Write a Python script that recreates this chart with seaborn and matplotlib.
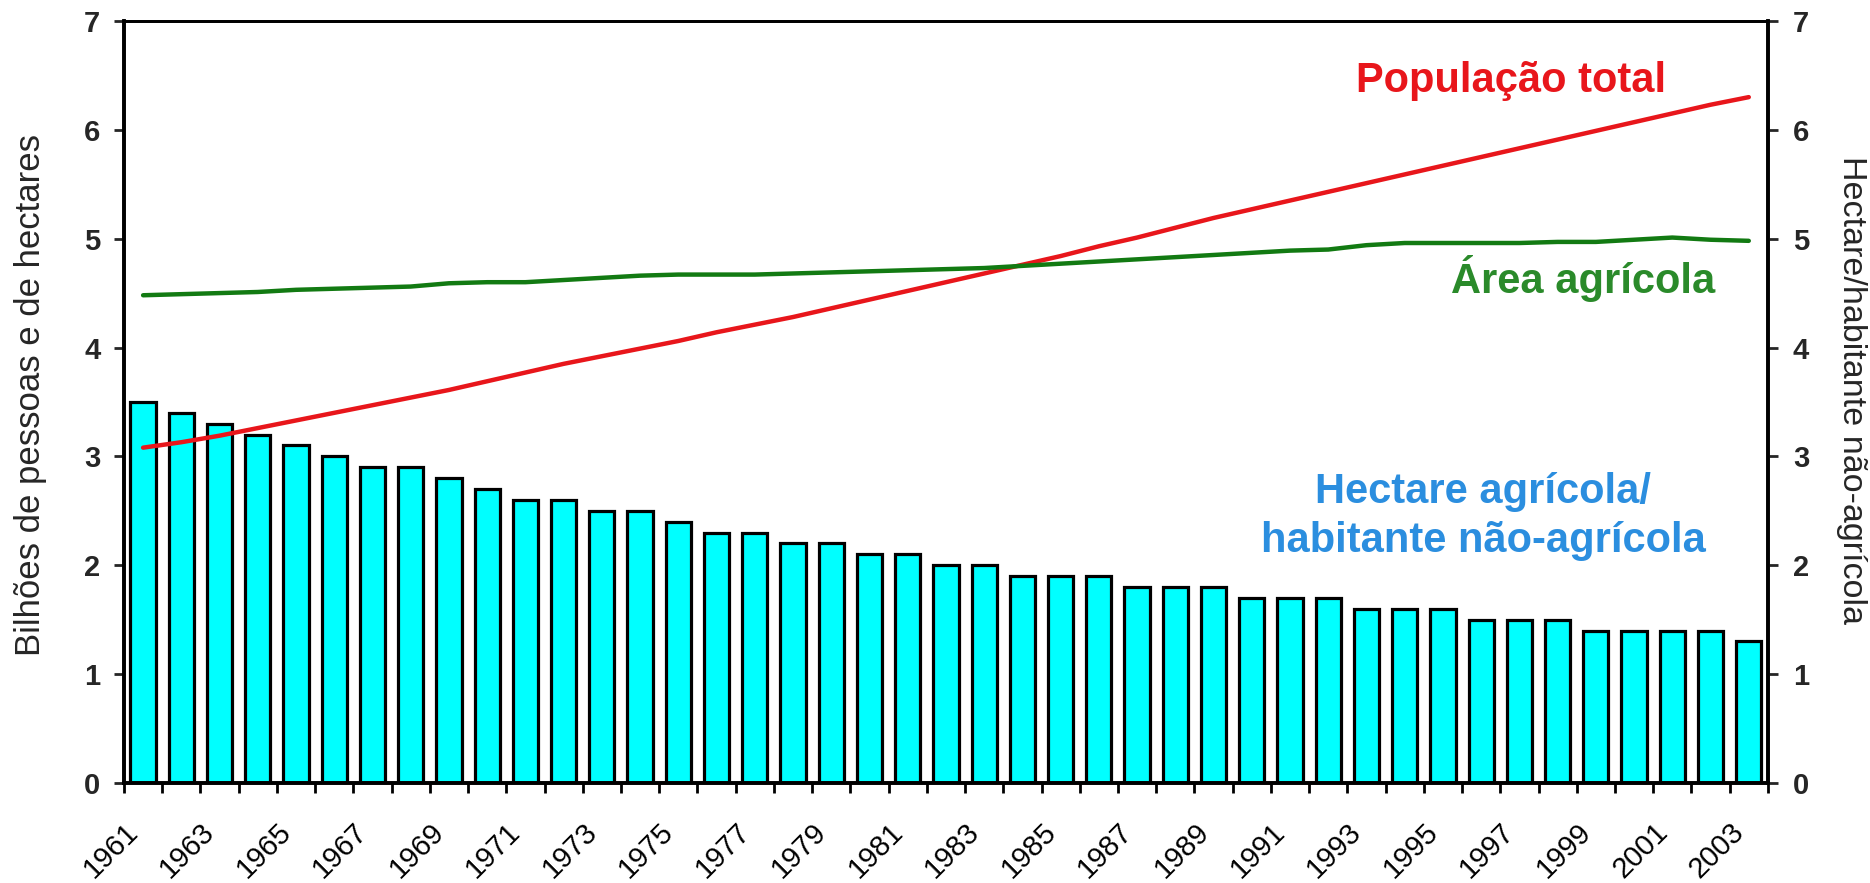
import numpy as np
import pandas as pd
import matplotlib
matplotlib.use("Agg")
import matplotlib.pyplot as plt
import seaborn as sns

# ---------------- data ----------------
years = list(range(1961, 2004))

hectare_por_habitante = [
    3.5, 3.4, 3.3, 3.2, 3.1, 3.0, 2.9, 2.9, 2.8, 2.7,
    2.6, 2.6, 2.5, 2.5, 2.4, 2.3, 2.3, 2.2, 2.2, 2.1,
    2.1, 2.0, 2.0, 1.9, 1.9, 1.9, 1.8, 1.8, 1.8, 1.7,
    1.7, 1.7, 1.6, 1.6, 1.6, 1.5, 1.5, 1.5, 1.4, 1.4,
    1.4, 1.4, 1.3,
]

populacao_total = [
    3.08, 3.13, 3.19, 3.26, 3.33, 3.40, 3.47, 3.54, 3.61, 3.69,
    3.77, 3.85, 3.92, 3.99, 4.06, 4.14, 4.21, 4.28, 4.36, 4.44,
    4.52, 4.60, 4.68, 4.76, 4.84, 4.93, 5.01, 5.10, 5.19, 5.27,
    5.35, 5.43, 5.51, 5.59, 5.67, 5.75, 5.83, 5.91, 5.99, 6.07,
    6.15, 6.23, 6.30,
]

area_agricola = [
    4.48, 4.49, 4.50, 4.51, 4.53, 4.54, 4.55, 4.56, 4.59, 4.60,
    4.60, 4.62, 4.64, 4.66, 4.67, 4.67, 4.67, 4.68, 4.69, 4.70,
    4.71, 4.72, 4.73, 4.75, 4.77, 4.79, 4.81, 4.83, 4.85, 4.87,
    4.89, 4.90, 4.94, 4.96, 4.96, 4.96, 4.96, 4.97, 4.97, 4.99,
    5.01, 4.99, 4.98,
]

y_ticks = [0, 1, 2, 3, 4, 5, 6, 7]
label_pop = "População total"
label_area = "Área agrícola"
label_hect = ["Hectare agrícola/", "habitante não-agrícola"]
ylabel_left = "Bilhões de pessoas e de hectares"
ylabel_right = "Hectare/habitante não-agrícola"

# ---------------- style ----------------
sns.set_style("ticks")
plt.rcParams["font.family"] = ["Liberation Sans", "DejaVu Sans"]

RED = "#E8161B"
GREEN_LINE = "#127A12"
GREEN_TXT = "#2A8A2A"
BLUE_TXT = "#2B8EDF"
CYAN = "#00FFFF"

n = len(years)
df = pd.DataFrame({
    "ano": [str(y) for y in years],
    "pos": np.arange(n),
    "hect": hectare_por_habitante,
    "pop": populacao_total,
    "area": area_agricola,
})

fig = plt.figure(figsize=(18.7, 8.83), dpi=100)
ax = fig.add_axes([0.0663, 0.1133, 0.8791, 0.8630])

sns.barplot(data=df, x="ano", y="hect", color=CYAN, saturation=1,
            edgecolor="black", linewidth=2.3, width=0.66, ax=ax, zorder=2)
sns.lineplot(data=df, x="pos", y="pop", color=RED, linewidth=3.2, ax=ax,
             zorder=4)
sns.lineplot(data=df, x="pos", y="area", color=GREEN_LINE, linewidth=3.2,
             ax=ax, zorder=4)

ax.set_xlim(-0.5, n - 0.5)
ax.set_ylim(0, 7)
ax.set_xlabel("")
ax.set_ylabel("")

# x ticks at category boundaries, labels every two years
xt = np.arange(n + 1) - 0.5
xl = [str(years[i]) if (i < n and i % 2 == 0) else "" for i in range(n + 1)]
ax.set_xticks(xt)
ax.set_xticklabels(xl)
ax.tick_params(axis="x", direction="out", length=7, width=2, pad=18,
               labelsize=21, colors="black")
for lbl in ax.get_xticklabels():
    lbl.set_rotation(45)
    lbl.set_ha("right")
    lbl.set_va("top")
    lbl.set_rotation_mode("anchor")

ax.set_yticks(y_ticks)
ax.tick_params(axis="y", direction="out", length=7, width=2, pad=10,
               labelsize=21)
for lbl in ax.get_yticklabels():
    lbl.set_fontweight("bold")

ax2 = ax.twinx()
ax2.set_ylim(0, 7)
ax2.set_yticks(y_ticks)
ax2.tick_params(axis="y", direction="out", length=7, width=2, pad=11,
                labelsize=21)
for lbl in ax2.get_yticklabels():
    lbl.set_fontweight("bold")
ax2.grid(False)
ax.grid(False)

for a in (ax, ax2):
    for side in ("left", "right", "bottom"):
        a.spines[side].set_linewidth(2.6)
        a.spines[side].set_color("black")
    a.spines["top"].set_linewidth(2.0)
    a.spines["top"].set_color("black")

# annotations
ax.text(39.84, 6.35, label_pop, color=RED, fontsize=30, fontweight="bold",
        ha="right", va="baseline", zorder=5)
ax.text(41.12, 4.50, label_area, color=GREEN_TXT, fontsize=30,
        fontweight="bold", ha="right", va="baseline", zorder=5)
ax.text(35.06, 2.57, label_hect[0], color=BLUE_TXT, fontsize=30,
        fontweight="bold", ha="center", va="baseline", zorder=5)
ax.text(35.06, 2.12, label_hect[1], color=BLUE_TXT, fontsize=30,
        fontweight="bold", ha="center", va="baseline", zorder=5)

# axis titles
fig.text(0.0165, 0.553, ylabel_left, rotation=90, fontsize=25,
         ha="center", va="center")
fig.text(0.9903, 0.558, ylabel_right, rotation=270, fontsize=24.5,
         ha="center", va="center")

fig.savefig("out.png", dpi=100)
